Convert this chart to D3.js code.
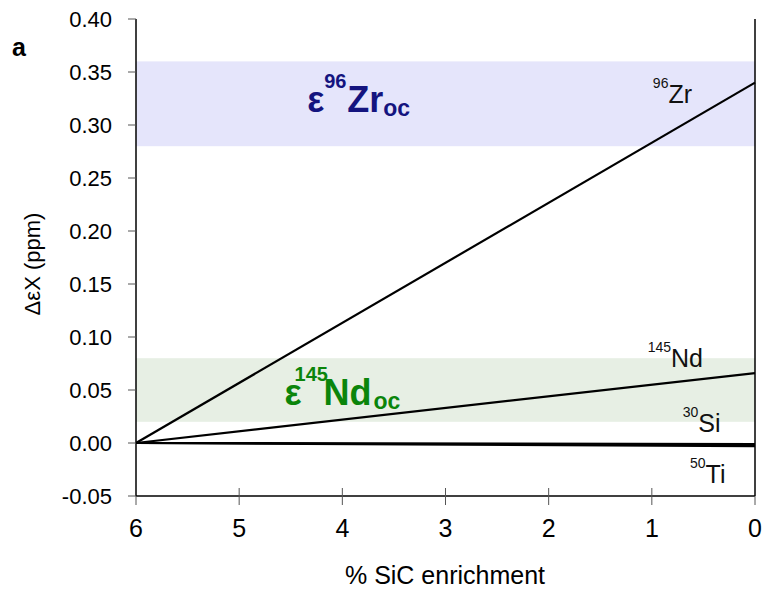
<!DOCTYPE html>
<html>
<head>
<meta charset="utf-8">
<script src="https://cdn.jsdelivr.net/npm/d3@7"></script>
<style>
  body { margin: 0; background: #fff; }
  text { font-family: "Liberation Sans", Arial, sans-serif; }
</style>
</head>
<body>
<svg id="chart"></svg>
<script>
// Mixing lines: change in epsilon values vs. % SiC enrichment (6 → 0)

const xTicks = [6, 5, 4, 3, 2, 1, 0];
const yTicks = [-0.05, 0, 0.05, 0.10, 0.15, 0.20, 0.25, 0.30, 0.35, 0.40];

// each isotope: value at 6% and at 0% enrichment
const isotopes = ["96Zr", "145Nd", "30Si", "50Ti"];
const startVals = [0, 0, 0, 0];
const endVals = [0.34, 0.066, -0.001, -0.003];

// label placement (data coords of baseline start)
const labelSup = ["96", "145", "30", "50"];
const labelEl = ["Zr", "Nd", "Si", "Ti"];
const labelX = [0.99, 1.04, 0.70, 0.63];
const labelY = [0.321, 0.072, 0.010, -0.038];

// shaded bands: ocean values
const bandNames = ["Zr", "Nd"];
const bandSup = ["96", "145"];
const bandLo = [0.28, 0.02];
const bandHi = [0.36, 0.08];
const bandFill = ["#e5e5fb", "#e7efe4"];
const bandText = ["#14147f", "#0b850b"];
const bandLabelX = [4.34, 4.56];
const bandLabelY = [0.312, 0.036];

(function () {
  const W = 765, H = 590;
  const M = { top: 19, right: 10, bottom: 94, left: 136 };
  const innerW = W - M.left - M.right;
  const innerH = H - M.top - M.bottom;

  const svg = d3.select("#chart").attr("width", W).attr("height", H);
  const g = svg.append("g").attr("transform", `translate(${M.left},${M.top})`);

  const x = d3.scaleLinear().domain([6, 0]).range([0, innerW]);
  const y = d3.scaleLinear().domain([-0.05, 0.40]).range([innerH, 0]);

  // bands
  bandLo.forEach((lo, i) => {
    g.append("rect")
      .attr("x", x(6)).attr("width", x(0) - x(6))
      .attr("y", y(bandHi[i])).attr("height", y(lo) - y(bandHi[i]))
      .attr("fill", bandFill[i]);
  });

  // band labels: ε, superscript mass, element, subscript "oc"
  // offsets in px relative to the label anchor
  const supOff = [17, 10];
  const elOff = [40, 39];
  const subOff = [76, 89];
  bandNames.forEach((n, i) => {
    const bx = x(bandLabelX[i]), by = y(bandLabelY[i]);
    const t = g.append("text")
      .attr("x", bx).attr("y", by)
      .attr("fill", bandText[i]).attr("font-weight", 700)
      .attr("font-size", 36);
    t.append("tspan").text("ε");
    t.append("tspan").attr("x", bx + supOff[i]).attr("y", by - 24).attr("font-size", 20).text(bandSup[i]);
    t.append("tspan").attr("x", bx + elOff[i]).attr("y", by).text(n);
    t.append("tspan").attr("x", bx + subOff[i]).attr("y", by + 4).attr("font-size", 23).text("oc");
  });

  // mixing lines
  isotopes.forEach((iso, i) => {
    g.append("line")
      .attr("x1", x(6)).attr("y1", y(startVals[i]))
      .attr("x2", x(0)).attr("y2", y(endVals[i]))
      .attr("stroke", "#000")
      .attr("stroke-width", 2.2);
  });

  // isotope labels
  labelEl.forEach((el, i) => {
    const t = g.append("text")
      .attr("x", x(labelX[i])).attr("y", y(labelY[i]))
      .attr("font-size", 25).attr("fill", "#111");
    t.append("tspan").attr("font-size", 14).attr("dy", -15).text(labelSup[i]);
    t.append("tspan").attr("dy", 15).text(el);
  });

  // axes frame: left, bottom, right
  g.append("line").attr("x1", 0).attr("x2", 0).attr("y1", 0).attr("y2", innerH)
    .attr("stroke", "#000").attr("stroke-width", 1.5);
  g.append("line").attr("x1", 0).attr("x2", innerW).attr("y1", innerH).attr("y2", innerH)
    .attr("stroke", "#000").attr("stroke-width", 1.5);
  g.append("line").attr("x1", innerW).attr("x2", innerW).attr("y1", 0).attr("y2", innerH)
    .attr("stroke", "#000").attr("stroke-width", 1.5);

  // y ticks
  yTicks.forEach(t => {
    g.append("line")
      .attr("x1", -8).attr("x2", 0).attr("y1", y(t)).attr("y2", y(t))
      .attr("stroke", "#555").attr("stroke-width", 1);
    g.append("text")
      .attr("x", -24).attr("y", y(t)).attr("dy", "0.35em")
      .attr("text-anchor", "end")
      .attr("font-size", 22).attr("fill", "#000")
      .text(t.toFixed(2));
  });

  // x ticks
  xTicks.forEach(t => {
    const up = (t === 6 || t === 0) ? 0 : -8;
    g.append("line")
      .attr("x1", x(t)).attr("x2", x(t)).attr("y1", innerH + up).attr("y2", innerH + 9)
      .attr("stroke", "#555").attr("stroke-width", 1);
    g.append("text")
      .attr("x", x(t)).attr("y", innerH + 32).attr("dy", "0.35em")
      .attr("text-anchor", "middle")
      .attr("font-size", 25).attr("fill", "#000")
      .text(t);
  });

  // axis titles
  svg.append("text")
    .attr("x", 445).attr("y", 584)
    .attr("text-anchor", "middle")
    .attr("font-size", 25)
    .text("% SiC enrichment");

  svg.append("text")
    .attr("transform", `translate(40,264) rotate(-90)`)
    .attr("text-anchor", "middle")
    .attr("font-size", 22)
    .text("ΔεX (ppm)");

  // panel letter
  svg.append("text")
    .attr("x", 12).attr("y", 56)
    .attr("font-size", 25).attr("font-weight", 700)
    .attr("font-family", "'DejaVu Sans', sans-serif")
    .text("a");
})();
</script>
</body>
</html>
